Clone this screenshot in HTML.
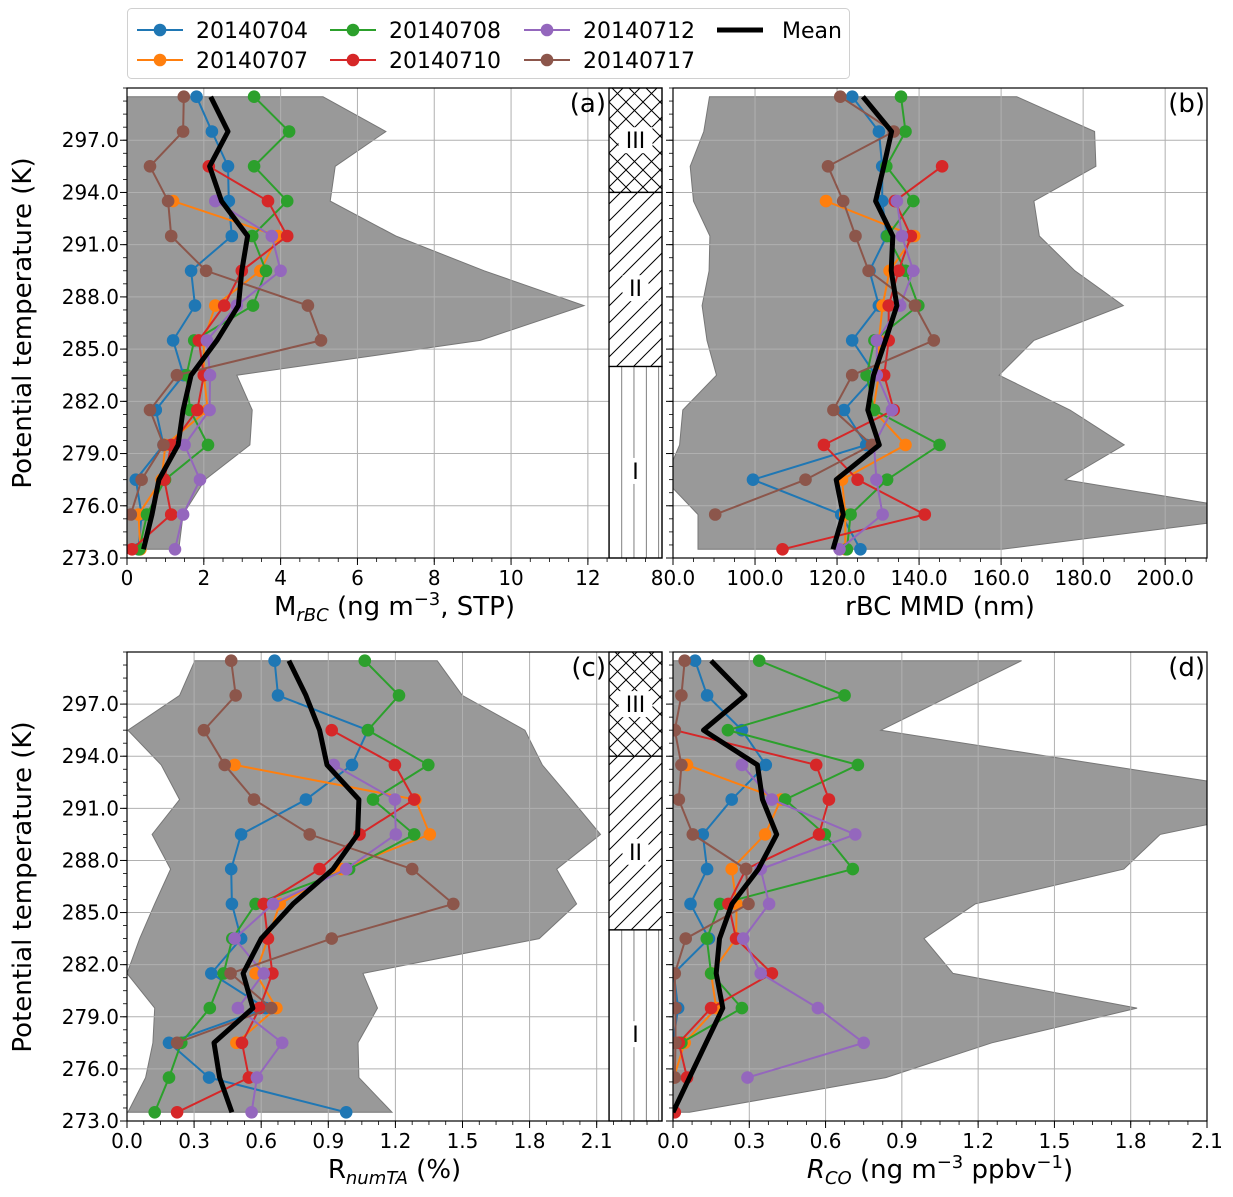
<!DOCTYPE html>
<html><head><meta charset="utf-8"><style>
body{margin:0;background:#fff}
svg{display:block;font-family:"DejaVu Sans","Liberation Sans",sans-serif}
</style></head><body>
<svg id="fig" xmlns="http://www.w3.org/2000/svg" width="1233" height="1197" viewBox="0 0 1233 1197">
<defs>
<pattern id="hx" patternUnits="userSpaceOnUse" width="17" height="17" x="609" y="0"><path d="M0,0L17,17M17,0L0,17" stroke="#000" stroke-width="1"/></pattern>
<pattern id="hd" patternUnits="userSpaceOnUse" width="17" height="17" x="609" y="0"><path d="M0,17L17,0M-4,4L4,-4M13,21L21,13" stroke="#000" stroke-width="1"/></pattern>
<pattern id="hv" patternUnits="userSpaceOnUse" width="12.3" height="20" x="609" y="0"><path d="M0,0L0,20" stroke="#555" stroke-width="1.5"/></pattern>
</defs>
</svg>
<script>
// ---------- data ----------
const levels = [299.5,297.5,295.5,293.5,291.5,289.5,287.5,285.5,283.5,281.5,279.5,277.5,275.5,273.5];
const seriesNames = ["20140704","20140707","20140708","20140710","20140712","20140717"];
const seriesColors = ["#1f77b4","#ff7f0e","#2ca02c","#d62728","#9467bd","#8c564b"];

const aBlue   = [1.81,2.21,2.63,2.65,2.73,1.67,1.77,1.20,1.47,0.75,0.95,0.23,0.38,0.30];
const aOrange = [null,null,null,1.2,3.93,3.47,2.3,2.0,2.0,2.1,1.0,0.9,0.3,0.35];
const aGreen  = [3.31,4.22,3.31,4.17,3.26,3.62,3.28,1.75,1.55,1.64,2.11,0.99,0.52,0.32];
const aRed    = [null,null,2.13,3.67,4.17,2.99,2.53,1.87,2.0,1.83,1.15,0.97,1.15,0.13];
const aPurple = [null,null,null,2.30,3.77,4.0,2.86,2.08,2.16,2.15,1.5,1.9,1.46,1.25];
const aBrown  = [1.48,1.46,0.6,1.07,1.15,2.06,4.71,5.05,1.3,0.6,0.95,0.38,0.1,null];
const aMean   = [2.18,2.63,2.15,2.46,3.14,2.99,2.9,2.34,1.67,1.46,1.33,0.83,0.65,0.43];
const aEnvMin = [0,0,0,0,0,0,0,0,0,0,0,0,0,0];
const aEnvMax = [5.1,6.74,5.42,5.29,7.0,9.3,11.9,9.2,2.86,3.26,3.2,2.03,1.46,1.35];

const bBlue   = [123.7,130.2,131,131,132.1,127.9,130.2,123.7,129.4,121.7,127.1,99.5,121,125.7];
const bOrange = [null,null,null,117.3,138.8,132.8,131.1,130.2,130.2,128.8,136.7,121.2,122,122];
const bGreen  = [135.6,136.7,132,138.6,132.3,136.7,139.8,129.1,127.2,129,145,132.2,123.3,122.4];
const bRed    = [null,null,145.6,134.1,138,135,132.6,132.6,131.5,133.8,116.8,125,141.4,106.7];
const bPurple = [null,null,null,134.6,135.8,138.6,135.4,129.7,129.7,133.4,129,129.6,131.1,120.6];
const bBrown  = [120.8,133.8,117.8,121.5,124.5,127.7,139,143.6,123.7,119.1,128.5,112.3,90.3,null];
const bMean   = [126.3,133.3,131.4,129.4,133.6,133.2,134.6,131.8,128.9,127.5,130.3,119.8,121.5,119];
const bEnvMin = [88.9,87.5,84.2,85,89,88.8,87.1,88.3,90.6,82.4,81.6,78,86.1,86.1];
const bEnvMax = [163.8,182.8,183.1,168,169.3,178,189.8,168,159.5,176.8,190,175.6,227,160.2];

const cBlue   = [0.66,0.675,1.077,1.006,0.80,0.51,0.466,0.469,0.51,0.377,0.62,0.188,0.367,0.98];
const cOrange = [null,null,null,0.481,1.29,1.354,0.958,0.683,0.63,0.575,0.668,0.489,null,null];
const cGreen  = [1.063,1.216,1.077,1.347,1.10,1.284,0.993,0.575,0.471,0.432,0.37,0.243,0.188,0.124];
const cRed    = [null,null,0.915,1.198,1.284,1.04,0.861,0.611,0.63,0.65,0.593,0.514,0.545,0.224];
const cPurple = [null,null,null,0.924,1.198,1.202,0.98,0.653,0.481,0.611,0.496,0.694,0.581,0.557];
const cBrown  = [0.466,0.486,0.344,0.437,0.568,0.817,1.275,1.459,0.915,0.463,0.645,0.224,null,null];
const cMean   = [0.724,0.80,0.861,0.894,1.037,1.031,0.921,0.742,0.60,0.519,0.563,0.389,0.414,0.469];
const cEnvMin = [0.303,0.235,0.004,0.153,0.235,0.112,0.195,0.124,0.057,0,0.124,0.116,0.083,0.004];
const cEnvMax = [1.387,1.499,1.779,1.857,1.988,2.117,1.921,2.01,1.843,1.055,1.12,1.033,1.037,1.185];

const dBlue   = [0.087,0.134,0.271,0.365,0.231,0.117,0.134,0.069,0.141,0.003,0.02,0.0,null,null];
const dOrange = [null,null,null,0.055,0.424,0.362,0.231,0.25,0.248,0.15,0.17,0.046,0.003,null];
const dGreen  = [0.339,0.675,0.216,0.727,0.441,0.597,0.707,0.185,0.133,0.15,0.271,0.033,null,null];
const dRed    = [null,null,0.007,0.563,0.613,0.574,0.287,0.218,0.248,0.389,0.15,0.023,0.055,0.007];
const dPurple = [null,null,null,0.271,0.389,0.717,0.345,0.378,0.276,0.345,0.57,0.75,0.293,null];
const dBrown  = [0.046,0.033,0.007,0.033,0.023,0.078,0.287,0.297,0.05,0.007,0.01,0.01,0.007,null];
const dMean   = [0.15,0.283,0.12,0.332,0.352,0.408,0.336,0.232,0.183,0.17,0.196,0.13,0.065,0];
const dEnvMin = [0,0,0,0,0,0,0,0,0,0,0,0,0,0];
const dEnvMax = [1.371,1.094,0.817,1.691,2.57,1.916,1.773,1.189,0.987,1.101,1.825,1.254,0.837,0.065];

const yTicks = [273,276,279,282,285,288,291,294,297];
const yTickLabels = ["273.0","276.0","279.0","282.0","285.0","288.0","291.0","294.0","297.0"];
const aXTicks = [0,2,4,6,8,10,12];
const aXTickLabels = ["0","2","4","6","8","10","12"];
const bXTicks = [80,100,120,140,160,180,200];
const bXTickLabels = ["80.0","100.0","120.0","140.0","160.0","180.0","200.0"];
const cdXTicks = [0,0.3,0.6,0.9,1.2,1.5,1.8,2.1];
const cdXTickLabels = ["0.0","0.3","0.6","0.9","1.2","1.5","1.8","2.1"];
const regionNames = ["III","II","I"];
const regionBounds = [[294,300],[284,294],[273,284]];

// ---------- drawing ----------
const NS="http://www.w3.org/2000/svg";
const svg=document.getElementById('fig');
function mk(tag,attrs,parent){const e=document.createElementNS(NS,tag);for(const k in attrs)e.setAttribute(k,attrs[k]);(parent||svg).appendChild(e);return e;}

function panel(cfg){
  const {id,x0,x1,y0,y1,xmin,xmax,series,mean,envMin,envMax,xt,xtl,minorStep,yLabels,label,band,xlabel}=cfg;
  const g=mk('g',{});
  
  
  const sx=v=>x0+(v-xmin)/(xmax-xmin)*(x1-x0);
  const sy=t=>y1-(t-273)/27*(y1-y0);
  const cp=mk('clipPath',{id:'clip'+id},g);
  mk('rect',{x:x0,y:y0,width:x1-x0,height:y1-y0},cp);
  const plot=mk('g',{'clip-path':'url(#clip'+id+')'},g);
  let pts=[];
  levels.forEach((t,i)=>pts.push(sx(envMax[i]).toFixed(1)+','+sy(t).toFixed(1)));
  for(let i=levels.length-1;i>=0;i--)pts.push(sx(envMin[i]).toFixed(1)+','+sy(levels[i]).toFixed(1));
  const env=mk('polygon',{points:pts.join(' '),fill:'#999999',stroke:'#777','stroke-width':1},plot);
  
  
  xt.forEach(v=>{const l=mk('line',{x1:sx(v),x2:sx(v),y1:y0,y2:y1,stroke:'#b0b0b0','stroke-width':1},plot);
    });
  yTicks.forEach(v=>{const l=mk('line',{x1:x0,x2:x1,y1:sy(v),y2:sy(v),stroke:'#b0b0b0','stroke-width':1},plot);
    });
  const all=series.map((s,i)=>({vals:s,color:seriesColors[i],name:seriesNames[i]}));
  all.forEach(s=>{
    const sg=mk('g',{},plot);
    
    
    let segs=[],cur=[];
    s.vals.forEach((v,i)=>{if(v===null){if(cur.length)segs.push(cur);cur=[];}else cur.push(sx(v).toFixed(1)+','+sy(levels[i]).toFixed(1));});
    if(cur.length)segs.push(cur);
    segs.forEach(sg2=>mk('polyline',{points:sg2.join(' '),fill:'none',stroke:s.color,'stroke-width':2},sg));
    s.vals.forEach((v,i)=>{if(v===null)return;
      const c=mk('circle',{cx:sx(v).toFixed(1),cy:sy(levels[i]).toFixed(1),r:6.3,fill:s.color},sg);
      
      });
  });
  const mp=mean.map((v,i)=>sx(v).toFixed(1)+','+sy(levels[i]).toFixed(1)).join(' ');
  const ml=mk('polyline',{points:mp,fill:'none',stroke:'#000','stroke-width':5,'stroke-linejoin':'round'},plot);
  
  
  if(band){
    const bg=mk('g',{},g);
    
    
    const pats=['url(#hx)','url(#hd)','url(#hv)'];
    regionBounds.forEach((b,i)=>{
      const yt=sy(Math.min(b[1],300)),yb=sy(b[0]);
      mk('rect',{x:609,y:yt,width:53,height:yb-yt,fill:'#fff'},bg);
      const r=mk('rect',{x:609,y:yt,width:53,height:yb-yt,fill:pats[i],stroke:'#000','stroke-width':1.3},bg);
      
      
      const cy=i===0?sy(297):(i===1?sy(288.5):sy(278));
      const w=regionNames[i].length*8+10;
      mk('rect',{x:635.5-w/2,y:cy-13,width:w,height:26,fill:'#fff'},bg);
      const t=mk('text',{x:635.5,y:cy+8,'text-anchor':'middle','font-size':22,fill:'#000'},bg);
      t.textContent=regionNames[i];
      
      
    });
  }
  const fr=mk('rect',{x:x0,y:y0,width:x1-x0,height:y1-y0,fill:'none',stroke:'#000','stroke-width':1.2},g);
  
  
  yTicks.forEach((v,i)=>{
    mk('line',{x1:x0-7,x2:x0,y1:sy(v),y2:sy(v),stroke:'#000','stroke-width':1},g);
    if(yLabels){const t=mk('text',{x:x0-8,y:sy(v)+7,'text-anchor':'end','font-size':20},g);t.textContent=yTickLabels[i];
      }
  });
  for(let t=273;t<=300.01;t+=0.75){mk('line',{x1:x0-4,x2:x0,y1:sy(t),y2:sy(t),stroke:'#000','stroke-width':0.8},g);}
  xt.forEach((v,i)=>{
    mk('line',{x1:sx(v),x2:sx(v),y1:y1,y2:y1+7,stroke:'#000','stroke-width':1},g);
    const t=mk('text',{x:sx(v),y:y1+27,'text-anchor':'middle','font-size':20},g);t.textContent=xtl[i];
    
  });
  for(let v=xmin;v<=xmax+1e-9;v+=minorStep){mk('line',{x1:sx(v),x2:sx(v),y1:y1,y2:y1+4,stroke:'#000','stroke-width':0.8},g);}
  const pl=mk('text',{x:(band?606:x1-2),y:y0+24,'text-anchor':'end','font-size':26},g);
  pl.textContent=label;
  
  
  const xl=mk('text',{x:(x0+x1)/2,y:y1+57,'text-anchor':'middle','font-size':26},g);
  xl.innerHTML=xlabel;
  
  
}

panel({id:'a',x0:127,x1:662,y0:88,y1:558,xmin:0,xmax:13.93,series:[aBlue,aOrange,aGreen,aRed,aPurple,aBrown],mean:aMean,envMin:aEnvMin,envMax:aEnvMax,xt:aXTicks,xtl:aXTickLabels,minorStep:0.5,yLabels:true,label:'(a)',band:true,
  xlabel:'M<tspan font-size="18" font-style="italic" dy="6">rBC</tspan><tspan dy="-6"> (ng m</tspan><tspan font-size="18" dy="-10">−3</tspan><tspan dy="10">, STP)</tspan>'});
panel({id:'b',x0:673,x1:1207,y0:88,y1:558,xmin:80,xmax:210.2,series:[bBlue,bOrange,bGreen,bRed,bPurple,bBrown],mean:bMean,envMin:bEnvMin,envMax:bEnvMax,xt:bXTicks,xtl:bXTickLabels,minorStep:5,yLabels:false,label:'(b)',band:false,
  xlabel:'rBC MMD (nm)'});
panel({id:'c',x0:127,x1:662,y0:652,y1:1121,xmin:0,xmax:2.392,series:[cBlue,cOrange,cGreen,cRed,cPurple,cBrown],mean:cMean,envMin:cEnvMin,envMax:cEnvMax,xt:cdXTicks,xtl:cdXTickLabels,minorStep:0.075,yLabels:true,label:'(c)',band:true,
  xlabel:'R<tspan font-size="18" font-style="italic" dy="6">numTA</tspan><tspan dy="-6"> (%)</tspan>'});
panel({id:'d',x0:673,x1:1207,y0:652,y1:1121,xmin:0,xmax:2.1,series:[dBlue,dOrange,dGreen,dRed,dPurple,dBrown],mean:dMean,envMin:dEnvMin,envMax:dEnvMax,xt:cdXTicks,xtl:cdXTickLabels,minorStep:0.075,yLabels:false,label:'(d)',band:false,
  xlabel:'<tspan font-style="italic">R</tspan><tspan font-size="18" font-style="italic" dy="6">CO</tspan><tspan dy="-6"> (ng m</tspan><tspan font-size="18" dy="-10">−3</tspan><tspan dy="10"> ppbv</tspan><tspan font-size="18" dy="-10">−1</tspan><tspan dy="10">)</tspan>'});

[[323],[887]].forEach(([cy])=>{
  const t=mk('text',{x:0,y:0,'text-anchor':'middle','font-size':26,transform:'translate(31,'+cy+') rotate(-90)'});
  t.textContent='Potential temperature (K)';
  
  
});

const lg=mk('g',{});


mk('rect',{x:127.5,y:8.5,width:722,height:70,rx:4,fill:'#fff',stroke:'#d0d0d0','stroke-width':1},lg);
const colX=[137,330,524];
seriesNames.forEach((n,i)=>{
  const col=Math.floor(i/2),row=i%2;
  const x=colX[col],y=30+row*30;
  const eg=mk('g',{},lg);
  
  
  mk('line',{x1:x,x2:x+46,y1:y,y2:y,stroke:seriesColors[i],'stroke-width':2},eg);
  mk('circle',{cx:x+23,cy:y,r:6.3,fill:seriesColors[i]},eg);
  const t=mk('text',{x:x+59,y:y+8,'font-size':22},eg);t.textContent=n;
});
const me=mk('g',{},lg);


mk('line',{x1:717,x2:763,y1:30,y2:30,stroke:'#000','stroke-width':5},me);
const mt=mk('text',{x:782,y:38,'font-size':22},me);mt.textContent='Mean';
</script>
</body></html>
